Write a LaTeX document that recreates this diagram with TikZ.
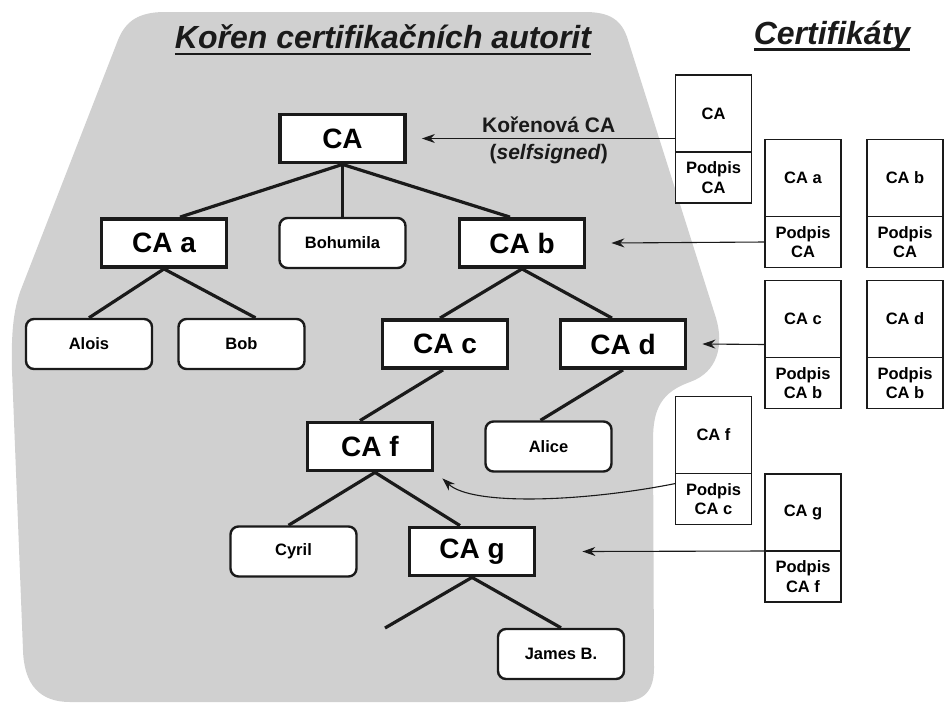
\documentclass[tikz,border=0pt]{standalone}
\usepackage{fontspec}
\setmainfont{Liberation Sans}
\usetikzlibrary{arrows.meta,positioning}
\definecolor{rootgray}{HTML}{D0D0D0}
\definecolor{ink}{HTML}{1A1A1A}
\newcommand{\thickul}[1]{\setbox0\hbox{#1}\rlap{\vrule height -4pt depth 6.6pt width \wd0}\box0}
\tikzset{cabox/.style={draw=ink, line width=3.8pt, fill=white, font=\fontsize{28}{30}\selectfont\bfseries, minimum width=125pt, minimum height=48pt, inner sep=0pt},
         userbox/.style={draw=ink, line width=2.4pt, rounded corners=8pt, fill=white, font=\fontsize{16.5}{18}\selectfont\bfseries, minimum width=126pt, minimum height=50pt, inner sep=0pt},
         crttop/.style={draw=ink, line width=1.1pt, fill=white, font=\fontsize{16.5}{19.5}\selectfont\bfseries, minimum width=76pt, minimum height=77pt, inner sep=0pt, outer sep=0pt, align=center},
         crtsig/.style={crttop, minimum height=51pt},
         heading/.style={font=\fontsize{32}{35}\selectfont\bfseries\itshape, text=ink, inner sep=0pt},
         treeline/.style={line width=3.2pt, ink},
         arr/.style={-{Stealth[length=13pt,width=9pt]}, line width=1.1pt, ink},
         arrlabel/.style={font=\fontsize{21}{23}\selectfont\bfseries, text=ink, inner sep=5pt}}

\begin{document}
\begin{tikzpicture}[x=1pt, y=-1pt]
\useasboundingbox (0,0) rectangle (945,702);
% area of the root authority
\fill[rootgray] (165,12) -- (585,12) .. controls (610,12) and (622,20) .. (628,40) -- (716,318)
  .. controls (724,345) and (718,372) .. (690,382) .. controls (662,392) and (653,408) .. (653,440)
  -- (654,668) .. controls (654,690) and (645,702) .. (620,702) -- (70,702)
  .. controls (40,702) and (24,685) .. (23,650) -- (12,370) .. controls (11,330) and (14,310) .. (20,292)
  -- (118,40) .. controls (126,20) and (140,12) .. (165,12) -- cycle;
\node[heading] (roottitle) at (383,40) {\thickul{Kořen certifikačních autorit}};
\node[heading] (certtitle) at (832,36) {\thickul{Certifikáty}};
% tree
\node[cabox] (root) at (342.5,138.5) {CA};
\node[cabox] (caa) at (164,243) {CA a};
\node[userbox] (bohumila) at (342.5,243) {Bohumila};
\node[cabox] (cab) at (522,243) {CA b};
\node[userbox] (alois) at (89,344) {Alois};
\node[userbox] (bob) at (241.5,344) {Bob};
\node[cabox] (cac) at (445,344) {CA c};
\node[cabox] (cad) at (623,344) {CA d};
\node[cabox] (caf) at (370,446.5) {CA f};
\node[userbox] (alice) at (548.5,446.5) {Alice};
\node[userbox] (cyril) at (293.5,551.5) {Cyril};
\node[cabox] (cag) at (472,551.5) {CA g};
\node[userbox] (james) at (561,654) {James B.};
\coordinate (gfree) at (385,628);
\draw[treeline] (root.south) -- ([xshift=16pt]caa.north);
\draw[treeline] (root.south) -- (bohumila.north);
\draw[treeline] (root.south) -- ([xshift=-12pt]cab.north);
\draw[treeline] (caa.south) -- (alois.north);
\draw[treeline] (caa.south) -- ([xshift=14pt]bob.north);
\draw[treeline] (cab.south) -- ([xshift=-5pt]cac.north);
\draw[treeline] (cab.south) -- ([xshift=-11pt]cad.north);
\draw[treeline] ([xshift=-2pt]cac.south) -- ([xshift=-10pt]caf.north);
\draw[treeline] (cad.south) -- ([xshift=-8pt]alice.north);
\draw[treeline] ([xshift=5pt]caf.south) -- ([xshift=-5pt]cyril.north);
\draw[treeline] ([xshift=5pt]caf.south) -- ([xshift=-12pt]cag.north);
\draw[treeline] (cag.south) -- (gfree);
\draw[treeline] (cag.south) -- (james.north);
% certificates
\node[crttop] (crtCA) at (713.5,113.5) {CA};
\node[crtsig, below=0pt of crtCA] (crtCAsig) {Podpis\\CA};
\node[crttop] (crtA) at (803,178) {CA a};
\node[crtsig, below=0pt of crtA] (crtAsig) {Podpis\\CA};
\node[crttop] (crtB) at (905,178) {CA b};
\node[crtsig, below=0pt of crtB] (crtBsig) {Podpis\\CA};
\node[crttop] (crtC) at (803,319) {CA c};
\node[crtsig, below=0pt of crtC] (crtCsig) {Podpis\\CA b};
\node[crttop] (crtD) at (905,319) {CA d};
\node[crtsig, below=0pt of crtD] (crtDsig) {Podpis\\CA b};
\node[crttop] (crtF) at (713.5,435) {CA f};
\node[crtsig, below=0pt of crtF] (crtFsig) {Podpis\\CA c};
\node[crttop] (crtG) at (803,512.5) {CA g};
\node[crtsig, below=0pt of crtG] (crtGsig) {Podpis\\CA f};
% signature arrows
\draw[arr] ([yshift=13.5pt]crtCA.south west) -- ([xshift=15pt]root.east)
  node[arrlabel, midway, above] {Kořenová CA}
  node[arrlabel, midway, below] {(\textit{selfsigned})};
\draw[arr] (crtAsig.west) -- ([xshift=25pt]cab.east);
\draw[arr] ([yshift=13pt]crtC.south west) -- ([xshift=15pt]cad.east);
\draw[arr] ([yshift=-10pt]crtFsig.north west) .. controls +(-90,18) and +(30,28) .. ([shift={(8pt,-6pt)}]caf.south east);
\draw[arr] (crtGsig.north west) -- ([xshift=46pt]cag.east);
\end{tikzpicture}
\end{document}
